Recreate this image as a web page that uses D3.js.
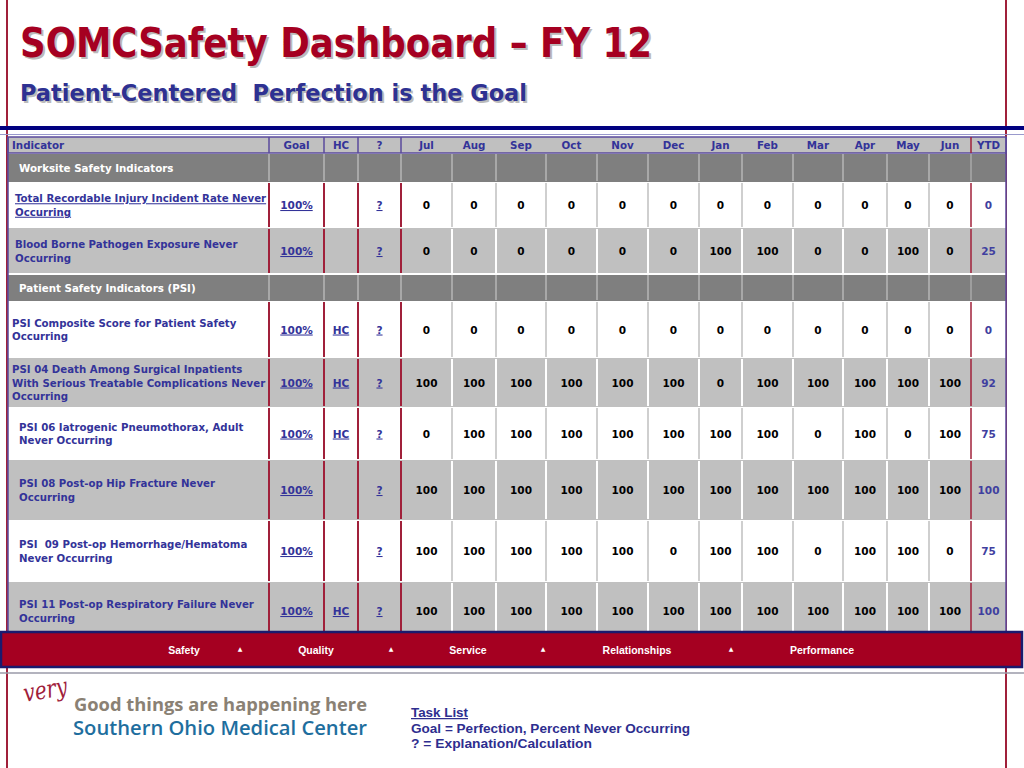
<!DOCTYPE html>
<html>
<head>
<meta charset="utf-8">
<script src="https://cdn.jsdelivr.net/npm/d3@7"></script>
<style>
  body { margin: 0; background: #fff; }
  svg { display: block; }
</style>
</head>
<body>
<div id="container"></div>
<script>

// ---- data ----
var months = ["Jul", "Aug", "Sep", "Oct", "Nov", "Dec", "Jan", "Feb", "Mar", "Apr", "May", "Jun"];
var headCols = ["Indicator", "Goal", "HC", "?"];
var sections = ["Worksite Safety Indicators", "Patient Safety Indicators (PSI)"];
var indicators = [
	"Total Recordable Injury Incident Rate Never|Occurring",
	"Blood Borne Pathogen Exposure Never|Occurring",
	"PSI Composite Score for Patient Safety|Occurring",
	"PSI 04 Death Among Surgical Inpatients|With Serious Treatable Complications Never|Occurring",
	"PSI 06 Iatrogenic Pneumothorax, Adult|Never Occurring",
	"PSI 08 Post-op Hip Fracture Never|Occurring",
	"PSI  09 Post-op Hemorrhage/Hematoma|Never Occurring",
	"PSI 11 Post-op Respiratory Failure Never|Occurring"
];
var indicatorSection = [0, 0, 1, 1, 1, 1, 1, 1];
var goals = ["100%", "100%", "100%", "100%", "100%", "100%", "100%", "100%"];
var hcFlags = [false, false, true, true, true, false, false, true];
var monthValues = [
	[0, 0, 0, 0, 0, 0, 0, 0, 0, 0, 0, 0],
	[0, 0, 0, 0, 0, 0, 100, 100, 0, 0, 100, 0],
	[0, 0, 0, 0, 0, 0, 0, 0, 0, 0, 0, 0],
	[100, 100, 100, 100, 100, 100, 0, 100, 100, 100, 100, 100],
	[0, 100, 100, 100, 100, 100, 100, 100, 0, 100, 0, 100],
	[100, 100, 100, 100, 100, 100, 100, 100, 100, 100, 100, 100],
	[100, 100, 100, 100, 100, 0, 100, 100, 0, 100, 100, 0],
	[100, 100, 100, 100, 100, 100, 100, 100, 100, 100, 100, 100]
];
var ytdValues = [0, 25, 0, 92, 75, 100, 75, 100];
var navItems = ["Safety", "Quality", "Service", "Relationships", "Performance"];
var legendLines = ["Task List", "Goal = Perfection, Percent Never Occurring", "? = Explanation/Calculation"];

// ---- layout ----
var W = 1024, H = 768;
var RED = "#a50021", NAVY = "#333399", PURPLE = "#5a4a9c";
var colKeys = headCols.concat(months).concat(["YTD"]);
var colEdges = [8, 269, 324, 358, 401, 452, 496, 546, 597, 648, 699, 742, 793, 843, 887, 929, 971, 1006];
// row tops: header, section 1, 2 rows, section 2, 6 rows, end
var rowEdges = [137, 153, 182, 228, 274, 301, 358, 407, 460, 520, 582, 640];
var indentX = [15, 15, 12, 12, 19, 19, 19, 19];
var navX = [184, 316, 468, 637, 822];
var navArrowX = [240, 391, 543, 731];
var legendW = [57, 279, 181];

var xLeft = d3.scaleOrdinal().domain(colKeys).range(colEdges.slice(0, -1));
var xRight = d3.scaleOrdinal().domain(colKeys).range(colEdges.slice(1));
function xMid(k) { return (xLeft(k) + xRight(k)) / 2; }

// build table rows in display order
var tableRows = [];
var si = -1;
indicators.forEach(function(name, i) {
	if (indicatorSection[i] != si) {
		si = indicatorSection[i];
		tableRows.push({kind: "section", label: sections[si]});
	}
	tableRows.push({kind: "data", idx: i, shade: tableRows.filter(function(r) { return r.kind == "data" && indicatorSection[r.idx] == si; }).length % 2});
});
var rowKeys = ["header"].concat(tableRows.map(function(r, i) { return "r" + i; }));
var yTop = d3.scaleOrdinal().domain(rowKeys).range(rowEdges.slice(0, -1));
var yBot = d3.scaleOrdinal().domain(rowKeys).range(rowEdges.slice(1));
tableRows.forEach(function(r, i) { r.key = "r" + i; });

var svg = d3.select("#container").append("svg")
	.attr("width", W).attr("height", H)
	.style("font-family", "'DejaVu Sans', Verdana, sans-serif");

// fit a text element to a given width
function fit(sel, w) {
	sel.attr("textLength", w).attr("lengthAdjust", "spacingAndGlyphs");
}

// ---- title ----
function shadowText(txt, x, y, size, color, w) {
	var g = svg.append("g");
	g.append("text").attr("x", x + 2).attr("y", y + 2).text(txt).attr("xml:space", "preserve").style("white-space", "pre")
		.attr("font-size", size).attr("font-weight", "bold").attr("fill", "#b4b4b4").attr("opacity", 0.9).call(fit, w);
	g.append("text").attr("x", x).attr("y", y).text(txt).attr("xml:space", "preserve").style("white-space", "pre")
		.attr("font-size", size).attr("font-weight", "bold").attr("fill", color).call(fit, w);
}
shadowText("SOMCSafety Dashboard \u2013 FY 12", 20, 57, 41, RED, 632);
shadowText("Patient-Centered  Perfection is the Goal", 20, 101, 23, "#2e3192", 507);

// frame lines
svg.append("line").attr("x1", 7).attr("x2", 7).attr("y1", 0).attr("y2", H).attr("stroke", "#a0203a").attr("stroke-width", 2);
svg.append("line").attr("x1", 1006).attr("x2", 1006).attr("y1", 0).attr("y2", H).attr("stroke", "#a0203a").attr("stroke-width", 2);
svg.append("rect").attr("x", 0).attr("y", 126).attr("width", W).attr("height", 4).attr("fill", "#000080");
svg.append("line").attr("x1", 0).attr("x2", W).attr("y1", 134.5).attr("y2", 134.5).attr("stroke", "#9999cc").attr("stroke-width", 1);

// ---- table ----
var table = svg.append("g");

// header row
table.append("rect").attr("x", colEdges[0]).attr("y", yTop("header"))
	.attr("width", colEdges[colEdges.length - 1] - colEdges[0]).attr("height", yBot("header") - yTop("header"))
	.attr("fill", "#c0c0c0").attr("stroke", PURPLE).attr("stroke-width", 1.5);
table.selectAll("text.head").data(colKeys).enter().append("text")
	.attr("class", "head")
	.attr("x", function(d) { return d == "Indicator" ? 12 : xMid(d); })
	.attr("y", yTop("header") + 12)
	.attr("text-anchor", function(d) { return d == "Indicator" ? "start" : "middle"; })
	.attr("font-size", 10.3).attr("font-weight", "bold").attr("fill", NAVY)
	.text(function(d) { return d; });
table.selectAll("line.headsep").data(["Goal", "HC", "?", "Jul", "YTD"]).enter().append("line")
	.attr("x1", function(d) { return xLeft(d); }).attr("x2", function(d) { return xLeft(d); })
	.attr("y1", yTop("header")).attr("y2", yBot("header"))
	.attr("stroke", function(d) { return d == "YTD" ? "#a0203a" : PURPLE; }).attr("stroke-width", 1.5);

// body rows
var rows = table.selectAll("g.row").data(tableRows).enter().append("g").attr("class", "row");

rows.append("rect")
	.attr("x", colEdges[0])
	.attr("y", function(d) { return yTop(d.key) + (d.kind == "section" ? 1 : 0); })
	.attr("width", colEdges[colEdges.length - 1] - colEdges[0])
	.attr("height", function(d) { return yBot(d.key) - yTop(d.key) - (d.kind == "section" ? 1 : 0); })
	.attr("fill", function(d) { return d.kind == "section" ? "#7f7f7f" : (d.shade ? "#c0c0c0" : "#ffffff"); });

// column separators
rows.each(function(r) {
	var g = d3.select(this);
	var y1 = yTop(r.key) + 1, y2 = yBot(r.key) - 1;
	g.selectAll("line.sep").data(colKeys.slice(1)).enter().append("line")
		.attr("x1", function(k) { return xLeft(k); }).attr("x2", function(k) { return xLeft(k); })
		.attr("y1", y1).attr("y2", y2)
		.attr("stroke", function(k) {
			if (r.kind == "section") return "#a8a8a8";
			if (headCols.indexOf(k) >= 0 || k == "Jul" || k == "YTD") return "#a0203a";
			return r.shade ? "#ffffff" : "#cfcfcf";
		})
		.attr("stroke-width", function(k) { return k == "YTD" ? 1.5 : 2; });
});

// white gap above second section
rows.filter(function(d, i) { return d.kind == "section" && i > 0; }).append("rect")
	.attr("x", colEdges[0]).attr("y", function(d) { return yTop(d.key) - 1; })
	.attr("width", colEdges[colEdges.length - 1] - colEdges[0]).attr("height", 2).attr("fill", "#fff");

// section labels
rows.filter(function(d) { return d.kind == "section"; }).append("text")
	.attr("x", 19).attr("y", function(d) { return (yTop(d.key) + yBot(d.key)) / 2 + 4; })
	.attr("font-size", 10.3).attr("font-weight", "bold").attr("fill", "#fff")
	.text(function(d) { return d.label; });

var dataRows = rows.filter(function(d) { return d.kind == "data"; });
function midY(d) { return Math.min((yTop(d.key) + yBot(d.key)) / 2, 611); }

// indicator names
dataRows.append("text")
	.attr("font-size", 10.2).attr("font-weight", "bold").attr("fill", NAVY)
	.attr("xml:space", "preserve").style("white-space", "pre")
	.attr("text-decoration", function(d) { return d.idx == 0 ? "underline" : null; })
	.each(function(d) {
		var lines = indicators[d.idx].split("|");
		var t = d3.select(this);
		var y0 = midY(d) - (lines.length - 1) * 13.5 / 2 + 4;
		lines.forEach(function(l, j) {
			t.append("tspan").attr("x", indentX[d.idx]).attr("y", y0 + j * 13.5).text(l);
		});
	});

// goal / HC / ? links
dataRows.append("text")
	.attr("x", xMid("Goal")).attr("y", function(d) { return midY(d) + 4; })
	.attr("text-anchor", "middle").attr("font-size", 10.5).attr("font-weight", "bold")
	.attr("fill", NAVY).attr("text-decoration", "underline")
	.text(function(d) { return goals[d.idx]; });
dataRows.filter(function(d) { return hcFlags[d.idx]; }).append("text")
	.attr("x", xMid("HC")).attr("y", function(d) { return midY(d) + 4; })
	.attr("text-anchor", "middle").attr("font-size", 10.5).attr("font-weight", "bold")
	.attr("fill", NAVY).attr("text-decoration", "underline")
	.text("HC");
dataRows.append("text")
	.attr("x", xMid("?")).attr("y", function(d) { return midY(d) + 4; })
	.attr("text-anchor", "middle").attr("font-size", 10.5).attr("font-weight", "bold")
	.attr("fill", NAVY).attr("text-decoration", "underline")
	.text("?");

// month values
dataRows.each(function(r) {
	d3.select(this).selectAll("text.val").data(monthValues[r.idx]).enter().append("text")
		.attr("class", "val")
		.attr("x", function(v, j) { return xMid(months[j]); })
		.attr("y", midY(r) + 4)
		.attr("text-anchor", "middle").attr("font-size", 10.5).attr("font-weight", "bold")
		.attr("fill", "#000")
		.text(function(v) { return v; });
});
dataRows.append("text")
	.attr("x", xMid("YTD")).attr("y", function(d) { return midY(d) + 4; })
	.attr("text-anchor", "middle").attr("font-size", 10.5).attr("font-weight", "bold")
	.attr("fill", "#3f3f9f")
	.text(function(d) { return ytdValues[d.idx]; });

// table outer side borders
table.append("line").attr("x1", 8).attr("x2", 8).attr("y1", yTop("header")).attr("y2", 632).attr("stroke", PURPLE).attr("stroke-width", 1.5);
table.append("line").attr("x1", 1006).attr("x2", 1006).attr("y1", yTop("header")).attr("y2", 632).attr("stroke", PURPLE).attr("stroke-width", 1.5);

// ---- navigation bar ----
var nav = svg.append("g");
nav.append("rect").attr("x", 1).attr("y", 632).attr("width", 1021).attr("height", 35)
	.attr("fill", RED).attr("stroke", "#1a1a6e").attr("stroke-width", 2.5);
nav.selectAll("text.nav").data(navItems).enter().append("text")
	.attr("class", "nav")
	.attr("x", function(d, i) { return navX[i]; }).attr("y", 654)
	.attr("text-anchor", "middle")
	.style("font-family", "'Liberation Sans', Arial, sans-serif")
	.attr("font-size", 10.5).attr("font-weight", "bold").attr("fill", "#fff")
	.text(function(d) { return d; });
nav.selectAll("text.arrow").data(navArrowX).enter().append("text")
	.attr("x", function(d) { return d; }).attr("y", 651)
	.attr("text-anchor", "middle").attr("font-size", 6).attr("fill", "#fff")
	.text("\u25B2");
svg.append("line").attr("x1", 0).attr("x2", W).attr("y1", 673).attr("y2", 673).attr("stroke", "#9a9aa8").attr("stroke-width", 1.5);

// ---- footer logo ----
var logo = svg.append("g");
logo.append("text").attr("x", 25).attr("y", 702)
	.attr("transform", "rotate(-10,25,702)")
	.style("font-family", "'DejaVu Serif', serif").attr("font-style", "italic")
	.attr("font-size", 25).attr("fill", "#a0203a").text("very").call(fit, 44);
logo.append("text").attr("x", 74).attr("y", 711)
	.style("font-family", "'Open Sans', sans-serif").attr("font-weight", "bold")
	.attr("font-size", 18).attr("fill", "#8a8174").text("Good things are happening here").call(fit, 293);
logo.append("text").attr("x", 73).attr("y", 735)
	.style("font-family", "'Open Sans', sans-serif").attr("font-weight", 600)
	.attr("font-size", 19).attr("fill", "#1e6e9e").text("Southern Ohio Medical Center").call(fit, 294);

// ---- legend lines ----
svg.selectAll("text.legend").data(legendLines).enter().append("text")
	.attr("class", "legend")
	.attr("x", 411).attr("y", function(d, i) { return 717 + i * 15.5; })
	.style("font-family", "'Liberation Sans', Arial, sans-serif")
	.attr("font-size", 12.5).attr("font-weight", "bold").attr("fill", "#2e2e8f")
	.attr("text-decoration", function(d, i) { return i == 0 ? "underline" : null; })
	.text(function(d) { return d; })
	.each(function(d, i) { d3.select(this).call(fit, legendW[i]); });

</script>
</body>
</html>
